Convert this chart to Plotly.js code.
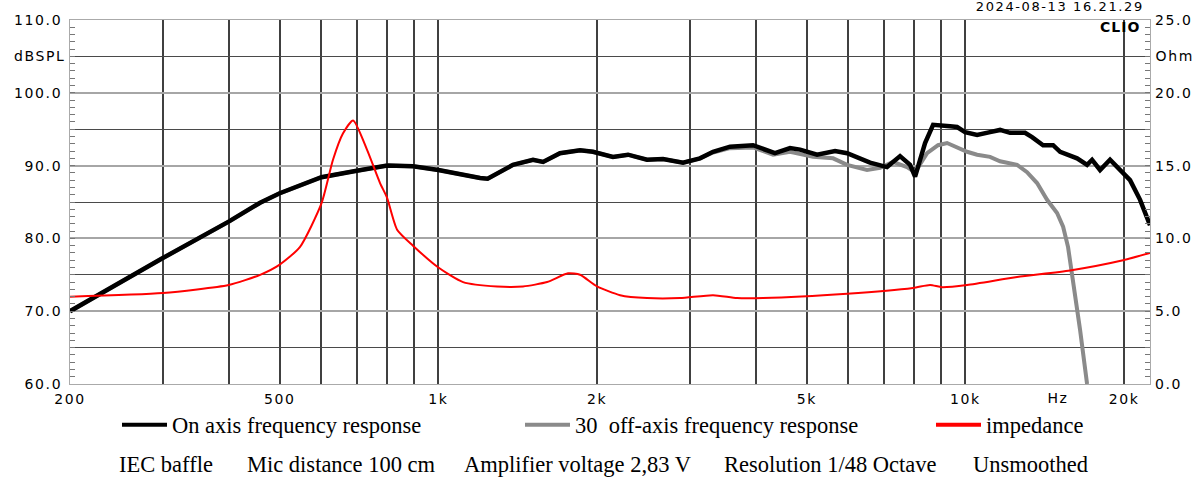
<!DOCTYPE html>
<html>
<head>
<meta charset="utf-8">
<script src="https://cdn.plot.ly/plotly-3.0.1.min.js"></script>
<style>
  body { margin: 0; background: #fff; }
  #plot { width: 1200px; height: 477px; }
  .xtick text, .ytick text, .y2tick text { letter-spacing: 1.6px; }
  g.annotation[data-index="0"] text, g.annotation[data-index="1"] text,
  g.annotation[data-index="2"] text, g.annotation[data-index="4"] text { letter-spacing: 1.6px; }
  g.annotation[data-index="3"] text { letter-spacing: 1px; }
  /* legend samples are all drawn thick in the original */
  .legendlines path { stroke-width: 4px !important; }
</style>
</head>
<body>
<div id="plot"></div>
<script>
// ON AXIS FREQUENCY RESPONSE (Hz, dBSPL)
let freq_on = [200, 300, 400, 459, 500, 600, 700, 800, 895, 1000, 1200, 1240, 1385, 1512, 1580, 1701, 1857, 1965, 2144, 2290, 2488, 2668, 2912, 3136, 3320, 3468, 3576, 3954, 4352, 4648, 4856, 5231, 5658, 5964, 6592, 7100, 7516, 7852, 8026, 8384, 8683, 9352, 9644, 9987, 10524, 11136, 11634, 12154, 12976, 13380, 14042, 14670, 15126, 16288, 17016, 17392, 18010, 18812, 19912, 20530, 21450, 22400]
let spl_on = [70.0, 77.3, 82.3, 84.9, 86.2, 88.4, 89.3, 90.0, 89.9, 89.4, 88.3, 88.2, 90.1, 90.8, 90.5, 91.7, 92.1, 91.9, 91.2, 91.5, 90.8, 90.9, 90.4, 91.0, 91.9, 92.4, 92.6, 92.8, 91.7, 92.4, 92.2, 91.5, 92.0, 91.7, 90.4, 89.8, 91.3, 90.1, 88.5, 93.1, 95.6, 95.4, 95.3, 94.6, 94.2, 94.6, 94.9, 94.5, 94.5, 93.9, 92.8, 92.8, 91.9, 91.0, 90.1, 90.8, 89.4, 90.8, 89.0, 88.0, 85.3, 81.8]

// 30 DEG OFF-AXIS FREQUENCY RESPONSE
let freq_off = [200, 300, 400, 459, 500, 600, 700, 800, 895, 1000, 1200, 1240, 1385, 1512, 1580, 1701, 1857, 1965, 2144, 2290, 2488, 2668, 2912, 3136, 3320, 3468, 3576, 3954, 4316, 4648, 5140, 5610, 5964, 6506, 6887, 7290, 7748, 8026, 8458, 8874, 9230, 10074, 10524, 11136, 11634, 12532, 13090, 13676, 14288, 14926, 15324, 15660, 16008, 16506, 17016]
let spl_off = [70.0, 77.3, 82.3, 84.9, 86.2, 88.4, 89.3, 90.0, 89.9, 89.4, 88.3, 88.2, 90.1, 90.8, 90.5, 91.7, 92.1, 91.9, 91.2, 91.5, 90.8, 90.9, 90.4, 91.0, 91.8, 92.2, 92.4, 92.5, 91.5, 91.9, 91.2, 91.0, 90.1, 89.4, 89.7, 90.5, 89.8, 89.1, 91.7, 92.8, 93.1, 91.9, 91.5, 91.2, 90.6, 90.1, 89.1, 87.6, 85.3, 83.5, 81.6, 78.8, 74.3, 67.4, 60.0]

// IMPEDANCE (Hz, Ohm)
let freq_imp = [200, 300, 400, 459, 500, 546, 600, 631, 659, 689, 732, 775, 799, 835, 895, 1000, 1114, 1292, 1447, 1608, 1762, 1857, 2000, 2212, 2488, 2874, 3320, 3688, 4130, 5964, 7956, 8570, 9030, 10074, 12532, 15798, 19912, 22400]
let ohm_imp = [6.0, 6.25, 6.8, 7.5, 8.2, 9.4, 12.4, 15.4, 17.2, 18.1, 16.1, 13.8, 12.8, 10.6, 9.5, 8.0, 7.0, 6.7, 6.7, 7.0, 7.6, 7.5, 6.7, 6.1, 5.9, 5.9, 6.1, 5.9, 5.9, 6.2, 6.6, 6.8, 6.65, 6.8, 7.35, 7.8, 8.5, 9.0]

// Axis ticks
let x_grid = [200, 300, 400, 500, 600, 700, 800, 900, 1000, 2000, 3000, 4000, 5000, 6000, 7000, 8000, 9000, 10000, 20000]
let x_labels = ["200", "", "", "500", "", "", "", "", "1k", "2k", "", "", "5k", "", "", "", "", "10k", "20k"]
let spl_ticks = [60, 65, 70, 75, 80, 85, 90, 95, 100, 105, 110]
let spl_labels = ["60.0", "", "70.0", "", "80.0", "", "90.0", "", "100.0", "", "110.0"]
let ohm_ticks = [0, 5, 10, 15, 20, 25]
let ohm_labels = ["0.0", "5.0", "10.0", "15.0", "20.0", "25.0"]

let info_texts = ["IEC baffle", "Mic distance 100 cm", "Amplifier voltage 2,83 V", "Resolution 1/48 Octave", "Unsmoothed"]
let info_left = [117, 245, 462, 722, 971]   // left edge of each text, page px

// plot area in page pixels
let L = 70, R = 1150, T = 20, B = 384
let px = v => (v - L) / (R - L)
let py = v => (B - v) / (B - T)

let tickfont = {family: "DejaVu Sans", size: 14, color: "#000"}
let serif = {family: "Liberation Serif", size: 22.5, color: "#000"}

let trace_off = {
    x: freq_off, y: spl_off, type: "scatter", mode: "lines",
    name: "30\u00a0\u00a0off-axis frequency response",
    line: {color: "#8a8a8a", width: 4},
    legend: "legend2"
  };

let trace_on = {
    x: freq_on, y: spl_on, type: "scatter", mode: "lines",
    name: "On axis frequency response",
    line: {color: "#000", width: 4.5},
    legend: "legend"
  };

let trace_imp = {
    x: freq_imp, y: ohm_imp, type: "scatter", mode: "lines",
    name: "impedance", yaxis: "y2",
    line: {color: "#f00", width: 2, shape: "spline", smoothing: 0.6},
    legend: "legend3"
  };

let legendBase = {
    orientation: "h", yanchor: "middle", xanchor: "left",
    y: py(425), font: serif, bgcolor: "rgba(0,0,0,0)", itemwidth: 45
  };

let annotations = [
    {text: "dBSPL", xref: "paper", x: 0, xanchor: "right", xshift: -6, yref: "y", y: 105, showarrow: false, font: tickfont},
    {text: "Ohm", xref: "paper", x: 1, xanchor: "left", xshift: 6, yref: "y", y: 105, showarrow: false, font: tickfont},
    {text: "Hz", xref: "x", x: Math.log10(15000), yref: "paper", y: py(398), yanchor: "middle", showarrow: false, font: tickfont},
    {text: "<b>CLIO</b>", xref: "paper", x: px(1140), xanchor: "right", yref: "paper", y: py(27), yanchor: "middle", showarrow: false,
     font: {family: "DejaVu Sans", size: 14, color: "#000"}},
    {text: "2024-08-13 16.21.29", xref: "paper", x: px(1060), xanchor: "center", yref: "paper", y: py(7), yanchor: "middle", showarrow: false,
     font: {family: "DejaVu Sans", size: 13, color: "#000"}}
  ];
info_texts.forEach((t, i) => annotations.push({
    text: t, xref: "paper", x: px(info_left[i]), xanchor: "left",
    yref: "paper", y: py(464), yanchor: "middle", showarrow: false, font: serif
  }));

let layout = {
    width: 1200, height: 477,
    margin: {l: L, r: 1200 - R, t: T, b: 477 - B},
    paper_bgcolor: "#fff", plot_bgcolor: "#fff",
    showlegend: true,
    xaxis: {
      type: "log", range: [Math.log10(200), Math.log10(22400)],
      tickmode: "array", tickvals: x_grid, ticktext: x_labels,
      showgrid: true, gridcolor: "#404040", gridwidth: 2,
      ticks: "", showline: true, linecolor: "#aaa", mirror: true,
      zeroline: false, tickfont: tickfont, ticklabelstandoff: 2
    },
    yaxis: {
      range: [60, 110], tickmode: "array", tickvals: spl_ticks, ticktext: spl_labels,
      showgrid: true, gridcolor: "#4a4a4a", gridwidth: 1,
      ticks: "inside", ticklen: 5, tickcolor: "#777",
      minor: {tickmode: "linear", tick0: 60, dtick: 1, ticks: "inside", ticklen: 5, tickcolor: "#777", showgrid: false},
      showline: true, linecolor: "#aaa", mirror: true,
      zeroline: false, tickfont: tickfont, ticklabelstandoff: 4
    },
    yaxis2: {
      overlaying: "y", side: "right", range: [0, 25],
      tickmode: "array", tickvals: ohm_ticks, ticktext: ohm_labels,
      showgrid: true, gridcolor: "#a6a6a6", gridwidth: 2,
      ticks: "inside", ticklen: 5, tickcolor: "#777",
      minor: {tickmode: "linear", tick0: 0, dtick: 0.5, ticks: "inside", ticklen: 5, tickcolor: "#777", showgrid: false},
      zeroline: false, tickfont: tickfont, ticklabelstandoff: 4
    },
    legend: Object.assign({}, legendBase, {x: px(117)}),
    legend2: Object.assign({}, legendBase, {x: px(520)}),
    legend3: Object.assign({}, legendBase, {x: px(931)}),
    annotations: annotations
  };

Plotly.newPlot("plot", [trace_off, trace_on, trace_imp], layout, {staticPlot: true});
</script>
</body>
</html>
